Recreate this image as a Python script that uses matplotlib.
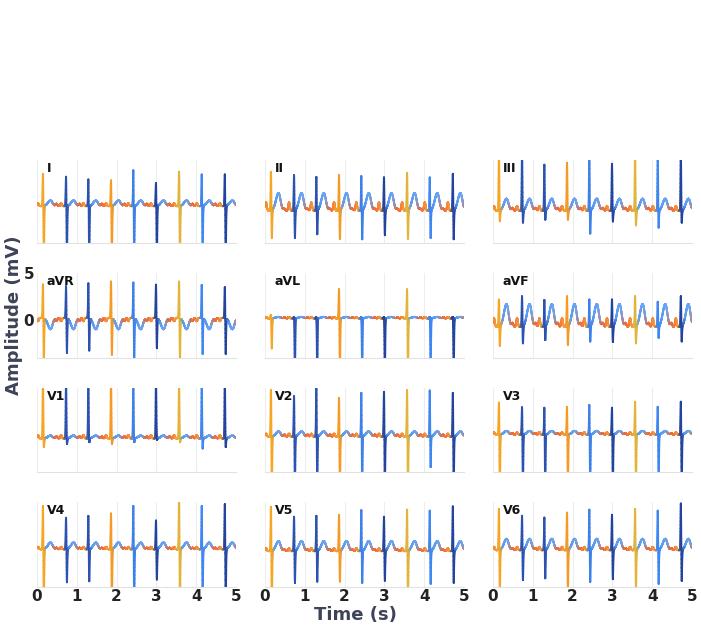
import numpy as np
import matplotlib
matplotlib.use("Agg")
import matplotlib.pyplot as plt
from matplotlib.collections import LineCollection
from matplotlib.colors import to_rgb

# ---------------- data ----------------
leads = ['I', 'II', 'III', 'aVR', 'aVL', 'aVF', 'V1', 'V2', 'V3', 'V4', 'V5', 'V6']
beat_times = [0.15, 0.73, 1.29, 1.86, 2.42, 2.99, 3.57, 4.14, 4.72]
beat_colors = ['#f5a623', '#2b52b0', '#2b52b0', '#f59a25', '#3d80ea',
               '#23449e', '#e2b53a', '#3e86f2', '#23449e']

baseline = [0.0, -0.5, -0.5, 0.25, 0.2, -0.7, -0.4, -0.2, 0.0, 0.0, -0.2, -0.1]
t_amp = [0.6, 1.9, 1.3, -1.2, 0.15, 2.4, 0.3, 0.55, 0.4, 0.7, 1.05, 1.2]
p_amp = [0.3, 0.9, 0.5, -0.35, 0.15, 0.9, 0.35, 0.3, 0.25, 0.25, 0.3, 0.35]
u_amp = [0.25, 0.2, 0.3, -0.3, 0.1, 0.4, 0.2, 0.2, 0.15, 0.15, 0.15, 0.2]

r_peaks = [
    [3.6, 3.3, 3.0, 2.9, 4.0, 2.6, 3.85, 3.55, 3.55],
    [3.75, 3.4, 3.2, 3.4, 3.3, 3.15, 3.65, 3.15, 3.55],
    [6.0, 6.0, 4.5, 4.7, 6.0, 4.6, 6.0, 6.0, 6.0],
    [3.9, 3.7, 4.0, 4.2, 4.1, 3.85, 4.2, 3.85, 3.6],
    [0.6, 0.4, 0.4, 3.4, 0.4, 0.4, 3.4, 0.4, 0.4],
    [2.2, 2.55, 2.15, 2.55, 2.2, 2.2, 2.55, 1.95, 2.55],
    [6.0, 6.0, 6.0, 6.0, 6.0, 6.0, 6.0, 6.0, 6.0],
    [4.9, 4.25, 6.0, 4.05, 4.6, 4.7, 4.9, 4.8, 4.6],
    [3.55, 3.05, 3.0, 3.1, 3.3, 3.0, 3.65, 3.1, 3.65],
    [4.7, 3.4, 3.6, 3.9, 4.7, 3.1, 5.5, 4.7, 4.9],
    [4.6, 3.5, 3.6, 3.7, 4.2, 3.5, 4.3, 4.15, 4.6],
    [4.35, 3.6, 3.4, 3.95, 4.25, 3.7, 4.35, 4.15, 4.9],
]
s_troughs = [
    [-6, -6, -6, -6, -6, -6, -6, -6, -6],
    [-3.6, -3.6, -3.2, -3.7, -3.75, -3.3, -3.7, -3.6, -3.75],
    [-1.8, -1.95, -1.6, -1.6, -3.15, -1.8, -2.25, -2.5, -1.95],
    [-4.2, -3.5, -3.25, -3.7, -4.2, -3.0, -4.2, -3.6, -3.6],
    [-3.0, -6, -6, -6, -6, -6, -6, -6, -6],
    [-2.85, -2.6, -2.25, -2.75, -2.4, -2.45, -2.6, -2.0, -2.4],
    [-1.45, -1.1, -0.9, -1.1, -0.9, -0.6, -0.9, -1.6, -1.45],
    [-6, -6, -6, -6, -6, -6, -6, -3.6, -6],
    [-6, -6, -6, -6, -6, -6, -6, -6, -6],
    [-6, -3.6, -3.5, -6, -6, -3.3, -6, -6, -6],
    [-6, -3.7, -3.55, -3.55, -3.7, -3.45, -6, -3.8, -3.7],
    [-4.5, -3.4, -3.2, -4.5, -3.6, -3.3, -4.5, -3.8, -3.5],
]
x_ticks = [0, 1, 2, 3, 4, 5]

# ---------------- helpers ----------------
t = np.arange(0, 5.0005, 0.001)


def g(c, s):
    return np.exp(-0.5 * ((t - c) / s) ** 2)


def g_asym(c, s_left, s_right):
    s = np.where(t < c, s_left, s_right)
    return np.exp(-0.5 * ((t - c) / s) ** 2)


def lead_signal(i):
    b = baseline[i]
    y = np.full_like(t, b)
    for k, tr in enumerate(beat_times):
        y += p_amp[i] * g(tr - 0.125, 0.02)
        y += (r_peaks[i][k] - b) * g(tr, 0.008)
        y += (s_troughs[i][k] - b) * g(tr + 0.022, 0.008)
        y += t_amp[i] * g_asym(tr + 0.19, 0.065, 0.05)
        y += u_amp[i] * g(tr + 0.34, 0.022)
    return y


# colour along time
key_t, key_c = [], []
for k, tr in enumerate(beat_times):
    for dt, c in [(-0.20, '#ef6d3a'), (-0.06, '#f5a33a'), (-0.012, beat_colors[k]),
                  (0.035, beat_colors[k]), (0.11, '#5b9cf2'), (0.22, '#6aa6f4'),
                  (0.34, '#ef6d3a')]:
        key_t.append(tr + dt)
        key_c.append(to_rgb(c))
key_t = np.array(key_t)
key_c = np.array(key_c)
tm = 0.5 * (t[:-1] + t[1:])
seg_cols = np.column_stack([np.interp(tm, key_t, key_c[:, j]) for j in range(3)])

# ---------------- figure ----------------
fig = plt.figure(figsize=(7.01, 6.25), dpi=100)
lefts = [37, 265, 493]
tops = [160, 273, 388, 502]
bottoms = [243, 358, 472, 587]
W, H = 701.0, 625.0

for i, name in enumerate(leads):
    r, c = divmod(i, 3)
    ax = fig.add_axes([lefts[c] / W, 1 - bottoms[r] / H, 199 / W, (bottoms[r] - tops[r]) / H])
    y = lead_signal(i)
    pts = np.column_stack([t, y]).reshape(-1, 1, 2)
    segs = np.concatenate([pts[:-1], pts[1:]], axis=1)
    lc = LineCollection(segs, colors=seg_cols, linewidths=1.4, capstyle='round')
    ax.add_collection(lc)
    ax.set_xlim(0, 5)
    ax.set_ylim(-4, 5)
    ax.set_xticks(x_ticks)
    ax.grid(axis='x', color='#ededed', lw=0.8)
    ax.set_axisbelow(True)
    for s in ['top', 'right', 'left']:
        ax.spines[s].set_visible(False)
    ax.spines['bottom'].set_color('#e2e2e2')
    ax.spines['bottom'].set_linewidth(0.8)
    ax.tick_params(length=0)
    if r == 3:
        ax.set_xticklabels([str(v) for v in x_ticks], fontsize=11, fontweight='bold', color='#222222')
        ax.tick_params(axis='x', pad=1.5)
    else:
        ax.set_xticklabels([])
    if name == 'aVR':
        ax.set_yticks([0, 5])
        ax.set_yticklabels(['0', '5'], fontsize=11, fontweight='bold', color='#222222')
        ax.tick_params(axis='y', pad=2)
    else:
        ax.set_yticks([])
    ax.text(0.05, 0.9, name, transform=ax.transAxes, fontsize=9, fontweight='bold',
            color='#111111', ha='left', va='center')

fig.text(355 / W, 1 - 615 / H, 'Time (s)', ha='center', va='center', fontsize=13,
         fontweight='bold', color='#3d4458')
fig.text(14 / W, 1 - 315 / H, 'Amplitude (mV)', ha='center', va='center', rotation=90,
         fontsize=13, fontweight='bold', color='#3d4458')

fig.savefig('out.png', dpi=100)
